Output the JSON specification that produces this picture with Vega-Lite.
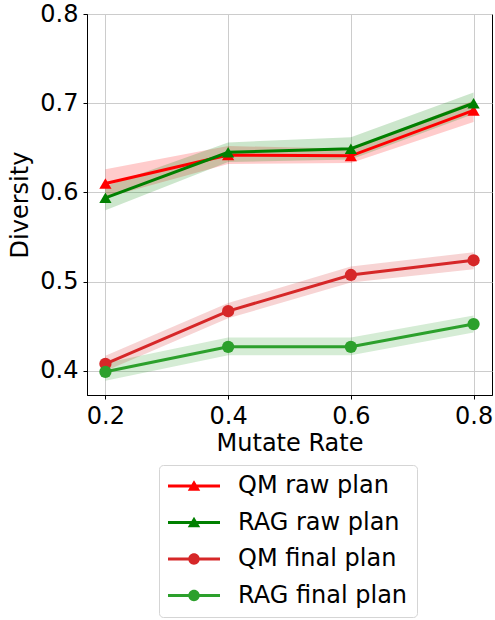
{
  "$schema": "https://vega.github.io/schema/vega-lite/v6.json",
  "width": 405,
  "height": 381,
  "autosize": "none",
  "padding": {"left": 87, "top": 14, "right": 3, "bottom": 225},
  "background": "white",
  "config": {
    "view": {"stroke": "black", "strokeWidth": 1},
    "font": "DejaVu Sans",
    "axis": {
      "labelFont": "DejaVu Sans", "labelFontSize": 24, "labelColor": "black",
      "titleFont": "DejaVu Sans", "titleFontSize": 24, "titleFontWeight": "normal", "titleColor": "black",
      "domainColor": "black", "tickColor": "black", "tickSize": 4, "labelPadding": 5,
      "gridColor": "#cccccc", "gridWidth": 1, "gridOpacity": 1
    }
  },
  "data": {"values": [
    {"series": "QM raw plan", "marker": "raw", "x": 0.2, "y": 0.610, "lo": 0.594, "hi": 0.626},
    {"series": "QM raw plan", "marker": "raw", "x": 0.4, "y": 0.642, "lo": 0.632, "hi": 0.652},
    {"series": "QM raw plan", "marker": "raw", "x": 0.6, "y": 0.641, "lo": 0.633, "hi": 0.649},
    {"series": "QM raw plan", "marker": "raw", "x": 0.8, "y": 0.692, "lo": 0.679, "hi": 0.703},
    {"series": "RAG raw plan", "marker": "raw", "x": 0.2, "y": 0.594, "lo": 0.580, "hi": 0.607},
    {"series": "RAG raw plan", "marker": "raw", "x": 0.4, "y": 0.645, "lo": 0.634, "hi": 0.656},
    {"series": "RAG raw plan", "marker": "raw", "x": 0.6, "y": 0.649, "lo": 0.637, "hi": 0.662},
    {"series": "RAG raw plan", "marker": "raw", "x": 0.8, "y": 0.700, "lo": 0.688, "hi": 0.712},
    {"series": "QM final plan", "marker": "final", "x": 0.2, "y": 0.408, "lo": 0.400, "hi": 0.417},
    {"series": "QM final plan", "marker": "final", "x": 0.4, "y": 0.467, "lo": 0.459, "hi": 0.476},
    {"series": "QM final plan", "marker": "final", "x": 0.6, "y": 0.5075, "lo": 0.499, "hi": 0.517},
    {"series": "QM final plan", "marker": "final", "x": 0.8, "y": 0.524, "lo": 0.514, "hi": 0.533},
    {"series": "RAG final plan", "marker": "final", "x": 0.2, "y": 0.399, "lo": 0.389, "hi": 0.409},
    {"series": "RAG final plan", "marker": "final", "x": 0.4, "y": 0.427, "lo": 0.4175, "hi": 0.4375},
    {"series": "RAG final plan", "marker": "final", "x": 0.6, "y": 0.427, "lo": 0.4175, "hi": 0.4375},
    {"series": "RAG final plan", "marker": "final", "x": 0.8, "y": 0.4525, "lo": 0.443, "hi": 0.462}
  ]},
  "encoding": {
    "x": {"field": "x", "type": "quantitative",
      "scale": {"domain": [0.17, 0.83], "nice": false, "zero": false},
      "axis": {"values": [0.2, 0.4, 0.6, 0.8], "format": ".1f", "title": "Mutate Rate", "titlePadding": 3}},
    "color": {"field": "series", "type": "nominal",
      "scale": {"domain": ["QM raw plan", "RAG raw plan", "QM final plan", "RAG final plan"],
                "range": ["#ff0000", "#008000", "#d62728", "#2ca02c"]},
      "legend": {
        "title": null, "orient": "none", "legendX": 72, "legendY": 451,
        "labelFont": "DejaVu Sans", "labelFontSize": 24, "labelColor": "black", "labelOffset": 18, "labelLimit": 400,
        "symbolSize": 2704, "clipHeight": 24, "rowPadding": 12.5, "padding": 9,
        "strokeColor": "#d5d5d5", "cornerRadius": 4, "fillColor": "white",
        "encode": {"symbols": {"update": {
          "shape": [
            {"test": "indexof(datum.value, 'raw') >= 0", "value": "M-1,-0.06H1V0.06H-1Z M0,-0.22L0.24,0.18H-0.24Z"},
            {"value": "M-1,-0.06H1V0.06H-1Z M-0.22,0A0.22,0.22,0,1,1,0.22,0A0.22,0.22,0,1,1,-0.22,0Z"}
          ],
          "fill": {"scale": "color", "field": "value"},
          "stroke": {"value": "transparent"},
          "strokeWidth": {"value": 0},
          "opacity": {"value": 1},
          "fillOpacity": {"value": 1}
        }}}
      }}
  },
  "layer": [
    {
      "mark": {"type": "area", "opacity": 0.2},
      "encoding": {
        "y": {"field": "lo", "type": "quantitative",
          "scale": {"domain": [0.373, 0.8], "nice": false, "zero": false},
          "axis": {"values": [0.4, 0.5, 0.6, 0.7, 0.8], "format": ".1f", "title": "Diversity", "titlePadding": 7}},
        "y2": {"field": "hi"}
      }
    },
    {
      "mark": {"type": "line", "strokeWidth": 3},
      "encoding": {"y": {"field": "y", "type": "quantitative"}}
    },
    {
      "mark": {"type": "point", "filled": true, "opacity": 1},
      "encoding": {
        "y": {"field": "y", "type": "quantitative"},
        "shape": {"field": "marker", "type": "nominal",
          "scale": {"domain": ["raw", "final"], "range": ["triangle-up", "circle"]}, "legend": null},
        "size": {"value": 150}
      }
    }
  ]
}
